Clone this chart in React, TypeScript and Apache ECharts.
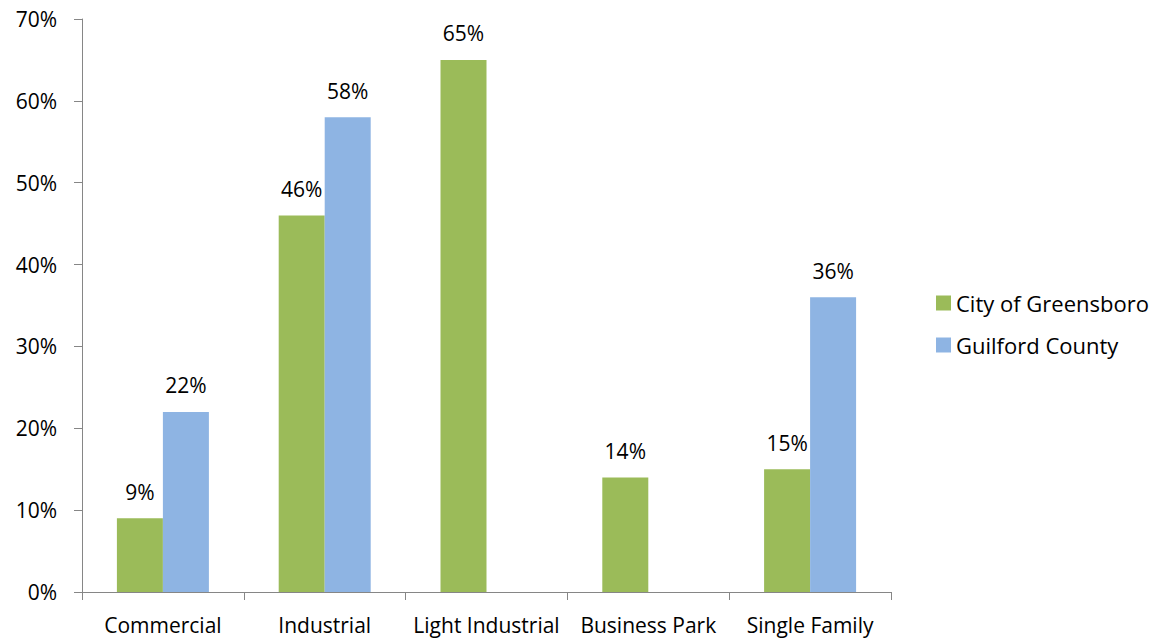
import React, { useEffect, useRef } from "react";
import * as echarts from "echarts";

const categories = ["Commercial", "Industrial", "Light Industrial", "Business Park", "Single Family"];
const greensboro = [9, 46, 65, 14, 15];
const guilford: (number | null)[] = [22, 58, null, null, 36];
const seriesNames = ["City of Greensboro", "Guilford County"];

const FONT = "'Open Sans', 'Noto Sans', sans-serif";

export default function App() {
  const ref = useRef<HTMLDivElement>(null);
  useEffect(() => {
    const chart = echarts.init(ref.current!, null, { renderer: "svg" });
    const label = {
      show: true,
      position: "top" as const,
      distance: 16,
      formatter: (p: any) => (p.value == null ? "" : p.value + "%"),
      color: "#000",
      fontSize: 21,
      fontFamily: FONT,
    };
    chart.setOption({
      animation: false,
      grid: { left: 82, right: 272, top: 19, bottom: 49, containLabel: false },
      legend: {
        orient: "vertical",
        left: 931,
        top: 287,
        itemWidth: 15,
        itemHeight: 15,
        itemGap: 20,
        icon: "rect",
        textStyle: { fontSize: 22, fontFamily: FONT, color: "#000" },
        data: seriesNames,
      },
      xAxis: {
        type: "category",
        data: categories,
        axisLine: { lineStyle: { color: "#868686", width: 1 } },
        axisTick: { show: true, length: 8, lineStyle: { color: "#868686" } },
        axisLabel: { color: "#000", fontSize: 21, fontFamily: FONT, margin: 22, interval: 0 },
      },
      yAxis: {
        type: "value",
        min: 0,
        max: 70,
        interval: 10,
        axisLine: { show: true, lineStyle: { color: "#868686", width: 1 } },
        axisTick: { show: true, length: 8, lineStyle: { color: "#868686" } },
        splitLine: { show: false },
        axisLabel: { color: "#000", fontSize: 21, fontFamily: FONT, margin: 25, formatter: "{value}%" },
      },
      series: [
        {
          name: seriesNames[0],
          type: "bar",
          data: greensboro,
          barWidth: 46,
          barGap: "0%",
          itemStyle: { color: "#9BBB59" },
          label,
        },
        {
          name: seriesNames[1],
          type: "bar",
          data: guilford,
          barWidth: 46,
          barGap: "0%",
          itemStyle: { color: "#8EB4E3" },
          label,
        },
      ],
    });
    return () => chart.dispose();
  }, []);
  return <div ref={ref} style={{ width: 1163, height: 641, position: "absolute", left: 0, top: 0, background: "#fff" }} />;
}
